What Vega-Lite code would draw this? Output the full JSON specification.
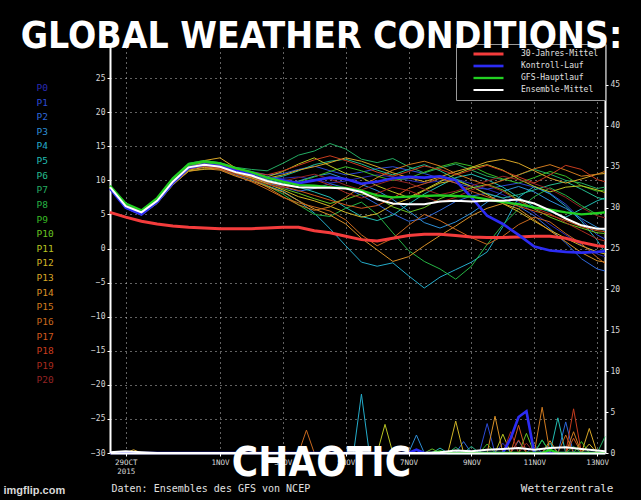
{
  "$schema": "https://vega.github.io/schema/vega-lite/v6.json",
  "width": 495,
  "height": 409,
  "autosize": "none",
  "padding": {"left": 110, "top": 44, "right": 36, "bottom": 47},
  "background": "#000000",
  "title": {
    "text": "GLOBAL WEATHER CONDITIONS:",
    "font": "Impact, DejaVu Sans Condensed, DejaVu Sans, sans-serif",
    "fontSize": 37,
    "fontWeight": "bold",
    "color": "#ffffff",
    "anchor": "middle",
    "frame": "group",
    "dx": -36,
    "dy": 36,
    "offset": -5,
    "baseline": "alphabetic",
    "zindex": 1
  },
  "config": {
    "view": {"stroke": null},
    "font": "DejaVu Sans"
  },
  "datasets": {
    "tm": [
      {"s":"P0","h":0,"t":8.9},{"s":"P0","h":12,"t":6.0},{"s":"P0","h":24,"t":5.1},{"s":"P0","h":36,"t":6.9},{"s":"P0","h":48,"t":9.7},{"s":"P0","h":60,"t":11.8},{"s":"P0","h":72,"t":12.5},{"s":"P0","h":84,"t":12.2},{"s":"P0","h":96,"t":11.5},{"s":"P0","h":108,"t":11.0},{"s":"P0","h":120,"t":10.4},{"s":"P0","h":132,"t":10.3},{"s":"P0","h":144,"t":10.5},{"s":"P0","h":156,"t":10.1},{"s":"P0","h":168,"t":9.6},{"s":"P0","h":180,"t":9.9},{"s":"P0","h":192,"t":10.4},{"s":"P0","h":204,"t":10.8},{"s":"P0","h":216,"t":10.5},{"s":"P0","h":228,"t":10.0},{"s":"P0","h":240,"t":9.6},{"s":"P0","h":252,"t":9.9},{"s":"P0","h":264,"t":10.2},{"s":"P0","h":276,"t":9.5},{"s":"P0","h":288,"t":8.7},{"s":"P0","h":300,"t":7.9},{"s":"P0","h":312,"t":6.8},{"s":"P0","h":324,"t":5.2},{"s":"P0","h":336,"t":3.5},{"s":"P0","h":348,"t":2.0},{"s":"P0","h":360,"t":0.5},{"s":"P0","h":372,"t":-0.8},{"s":"P0","h":378,"t":-1.2},
      {"s":"P1","h":0,"t":9.1},{"s":"P1","h":12,"t":6.3},{"s":"P1","h":24,"t":5.4},{"s":"P1","h":36,"t":7.1},{"s":"P1","h":48,"t":9.9},{"s":"P1","h":60,"t":12.1},{"s":"P1","h":72,"t":12.6},{"s":"P1","h":84,"t":12.3},{"s":"P1","h":96,"t":11.6},{"s":"P1","h":108,"t":11.3},{"s":"P1","h":120,"t":10.8},{"s":"P1","h":132,"t":11.0},{"s":"P1","h":144,"t":11.6},{"s":"P1","h":156,"t":12.1},{"s":"P1","h":168,"t":11.4},{"s":"P1","h":180,"t":10.8},{"s":"P1","h":192,"t":11.2},{"s":"P1","h":204,"t":11.7},{"s":"P1","h":216,"t":12.0},{"s":"P1","h":228,"t":11.5},{"s":"P1","h":240,"t":11.0},{"s":"P1","h":252,"t":10.3},{"s":"P1","h":264,"t":9.6},{"s":"P1","h":276,"t":9.0},{"s":"P1","h":288,"t":8.7},{"s":"P1","h":300,"t":9.2},{"s":"P1","h":312,"t":9.6},{"s":"P1","h":324,"t":9.0},{"s":"P1","h":336,"t":8.1},{"s":"P1","h":348,"t":6.5},{"s":"P1","h":360,"t":4.2},{"s":"P1","h":372,"t":2.0},{"s":"P1","h":378,"t":1.4},
      {"s":"P2","h":0,"t":8.8},{"s":"P2","h":12,"t":6.1},{"s":"P2","h":24,"t":5.2},{"s":"P2","h":36,"t":7.0},{"s":"P2","h":48,"t":9.6},{"s":"P2","h":60,"t":11.7},{"s":"P2","h":72,"t":12.1},{"s":"P2","h":84,"t":11.8},{"s":"P2","h":96,"t":11.0},{"s":"P2","h":108,"t":10.5},{"s":"P2","h":120,"t":9.6},{"s":"P2","h":132,"t":9.0},{"s":"P2","h":144,"t":8.4},{"s":"P2","h":156,"t":8.8},{"s":"P2","h":168,"t":9.5},{"s":"P2","h":180,"t":8.9},{"s":"P2","h":192,"t":7.8},{"s":"P2","h":204,"t":6.5},{"s":"P2","h":216,"t":5.1},{"s":"P2","h":228,"t":4.0},{"s":"P2","h":240,"t":4.4},{"s":"P2","h":252,"t":5.6},{"s":"P2","h":264,"t":6.9},{"s":"P2","h":276,"t":7.7},{"s":"P2","h":288,"t":8.1},{"s":"P2","h":300,"t":7.4},{"s":"P2","h":312,"t":6.2},{"s":"P2","h":324,"t":4.8},{"s":"P2","h":336,"t":2.9},{"s":"P2","h":348,"t":0.8},{"s":"P2","h":360,"t":-1.5},{"s":"P2","h":372,"t":-3.0},{"s":"P2","h":378,"t":-3.3},
      {"s":"P3","h":0,"t":9.0},{"s":"P3","h":12,"t":6.2},{"s":"P3","h":24,"t":5.3},{"s":"P3","h":36,"t":7.1},{"s":"P3","h":48,"t":9.9},{"s":"P3","h":60,"t":12.0},{"s":"P3","h":72,"t":12.4},{"s":"P3","h":84,"t":12.1},{"s":"P3","h":96,"t":11.3},{"s":"P3","h":108,"t":10.6},{"s":"P3","h":120,"t":9.7},{"s":"P3","h":132,"t":9.3},{"s":"P3","h":144,"t":9.9},{"s":"P3","h":156,"t":10.6},{"s":"P3","h":168,"t":11.0},{"s":"P3","h":180,"t":10.2},{"s":"P3","h":192,"t":9.4},{"s":"P3","h":204,"t":8.5},{"s":"P3","h":216,"t":7.2},{"s":"P3","h":228,"t":5.5},{"s":"P3","h":240,"t":3.8},{"s":"P3","h":252,"t":3.0},{"s":"P3","h":264,"t":3.9},{"s":"P3","h":276,"t":5.2},{"s":"P3","h":288,"t":6.8},{"s":"P3","h":300,"t":8.4},{"s":"P3","h":312,"t":9.1},{"s":"P3","h":324,"t":8.3},{"s":"P3","h":336,"t":7.0},{"s":"P3","h":348,"t":5.9},{"s":"P3","h":360,"t":4.4},{"s":"P3","h":372,"t":3.1},{"s":"P3","h":378,"t":2.6},
      {"s":"P4","h":0,"t":9.2},{"s":"P4","h":12,"t":6.4},{"s":"P4","h":24,"t":5.5},{"s":"P4","h":36,"t":7.2},{"s":"P4","h":48,"t":9.9},{"s":"P4","h":60,"t":11.8},{"s":"P4","h":72,"t":12.0},{"s":"P4","h":84,"t":11.7},{"s":"P4","h":96,"t":10.8},{"s":"P4","h":108,"t":10.1},{"s":"P4","h":120,"t":9.2},{"s":"P4","h":132,"t":8.4},{"s":"P4","h":144,"t":7.0},{"s":"P4","h":156,"t":5.2},{"s":"P4","h":168,"t":2.9},{"s":"P4","h":180,"t":0.4},{"s":"P4","h":192,"t":-2.0},{"s":"P4","h":204,"t":-2.6},{"s":"P4","h":216,"t":-2.1},{"s":"P4","h":228,"t":-4.0},{"s":"P4","h":240,"t":-5.8},{"s":"P4","h":252,"t":-4.2},{"s":"P4","h":264,"t":-3.1},{"s":"P4","h":276,"t":-2.0},{"s":"P4","h":288,"t":-0.5},{"s":"P4","h":300,"t":3.2},{"s":"P4","h":312,"t":7.5},{"s":"P4","h":324,"t":9.1},{"s":"P4","h":336,"t":8.0},{"s":"P4","h":348,"t":6.2},{"s":"P4","h":360,"t":4.0},{"s":"P4","h":372,"t":1.2},{"s":"P4","h":378,"t":-0.6},
      {"s":"P5","h":0,"t":8.9},{"s":"P5","h":12,"t":6.2},{"s":"P5","h":24,"t":5.4},{"s":"P5","h":36,"t":7.0},{"s":"P5","h":48,"t":9.7},{"s":"P5","h":60,"t":11.7},{"s":"P5","h":72,"t":12.1},{"s":"P5","h":84,"t":11.9},{"s":"P5","h":96,"t":11.2},{"s":"P5","h":108,"t":10.8},{"s":"P5","h":120,"t":10.1},{"s":"P5","h":132,"t":9.6},{"s":"P5","h":144,"t":9.0},{"s":"P5","h":156,"t":8.3},{"s":"P5","h":168,"t":7.5},{"s":"P5","h":180,"t":6.0},{"s":"P5","h":192,"t":4.7},{"s":"P5","h":204,"t":4.1},{"s":"P5","h":216,"t":4.9},{"s":"P5","h":228,"t":6.5},{"s":"P5","h":240,"t":8.0},{"s":"P5","h":252,"t":9.2},{"s":"P5","h":264,"t":10.4},{"s":"P5","h":276,"t":10.9},{"s":"P5","h":288,"t":10.1},{"s":"P5","h":300,"t":9.0},{"s":"P5","h":312,"t":7.5},{"s":"P5","h":324,"t":6.1},{"s":"P5","h":336,"t":5.4},{"s":"P5","h":348,"t":4.6},{"s":"P5","h":360,"t":5.8},{"s":"P5","h":372,"t":7.0},{"s":"P5","h":378,"t":7.4},
      {"s":"P6","h":0,"t":9.1},{"s":"P6","h":12,"t":6.3},{"s":"P6","h":24,"t":5.3},{"s":"P6","h":36,"t":6.9},{"s":"P6","h":48,"t":9.8},{"s":"P6","h":60,"t":12.0},{"s":"P6","h":72,"t":12.5},{"s":"P6","h":84,"t":12.2},{"s":"P6","h":96,"t":11.4},{"s":"P6","h":108,"t":10.9},{"s":"P6","h":120,"t":10.2},{"s":"P6","h":132,"t":10.6},{"s":"P6","h":144,"t":11.4},{"s":"P6","h":156,"t":12.3},{"s":"P6","h":168,"t":12.8},{"s":"P6","h":180,"t":13.1},{"s":"P6","h":192,"t":12.4},{"s":"P6","h":204,"t":11.5},{"s":"P6","h":216,"t":10.8},{"s":"P6","h":228,"t":11.6},{"s":"P6","h":240,"t":12.3},{"s":"P6","h":252,"t":11.4},{"s":"P6","h":264,"t":10.2},{"s":"P6","h":276,"t":9.1},{"s":"P6","h":288,"t":8.0},{"s":"P6","h":300,"t":7.4},{"s":"P6","h":312,"t":7.9},{"s":"P6","h":324,"t":8.6},{"s":"P6","h":336,"t":9.3},{"s":"P6","h":348,"t":9.8},{"s":"P6","h":360,"t":8.7},{"s":"P6","h":372,"t":7.5},{"s":"P6","h":378,"t":7.2},
      {"s":"P7","h":0,"t":9.0},{"s":"P7","h":12,"t":6.4},{"s":"P7","h":24,"t":5.6},{"s":"P7","h":36,"t":7.3},{"s":"P7","h":48,"t":10.2},{"s":"P7","h":60,"t":12.5},{"s":"P7","h":72,"t":12.9},{"s":"P7","h":84,"t":12.6},{"s":"P7","h":96,"t":11.9},{"s":"P7","h":108,"t":11.6},{"s":"P7","h":120,"t":11.4},{"s":"P7","h":132,"t":12.5},{"s":"P7","h":144,"t":13.7},{"s":"P7","h":156,"t":14.3},{"s":"P7","h":168,"t":15.4},{"s":"P7","h":180,"t":14.6},{"s":"P7","h":192,"t":13.1},{"s":"P7","h":204,"t":12.6},{"s":"P7","h":216,"t":13.2},{"s":"P7","h":228,"t":12.0},{"s":"P7","h":240,"t":11.1},{"s":"P7","h":252,"t":11.8},{"s":"P7","h":264,"t":12.4},{"s":"P7","h":276,"t":11.5},{"s":"P7","h":288,"t":10.6},{"s":"P7","h":300,"t":10.1},{"s":"P7","h":312,"t":10.8},{"s":"P7","h":324,"t":11.6},{"s":"P7","h":336,"t":10.9},{"s":"P7","h":348,"t":10.0},{"s":"P7","h":360,"t":9.6},{"s":"P7","h":372,"t":8.8},{"s":"P7","h":378,"t":9.0},
      {"s":"P8","h":0,"t":9.0},{"s":"P8","h":12,"t":6.3},{"s":"P8","h":24,"t":5.4},{"s":"P8","h":36,"t":7.2},{"s":"P8","h":48,"t":10.0},{"s":"P8","h":60,"t":12.2},{"s":"P8","h":72,"t":12.6},{"s":"P8","h":84,"t":12.2},{"s":"P8","h":96,"t":11.3},{"s":"P8","h":108,"t":10.4},{"s":"P8","h":120,"t":9.2},{"s":"P8","h":132,"t":8.0},{"s":"P8","h":144,"t":6.4},{"s":"P8","h":156,"t":5.0},{"s":"P8","h":168,"t":4.7},{"s":"P8","h":180,"t":5.9},{"s":"P8","h":192,"t":6.8},{"s":"P8","h":204,"t":5.0},{"s":"P8","h":216,"t":2.3},{"s":"P8","h":228,"t":-0.3},{"s":"P8","h":240,"t":-1.9},{"s":"P8","h":252,"t":-3.0},{"s":"P8","h":264,"t":-4.5},{"s":"P8","h":276,"t":-2.6},{"s":"P8","h":288,"t":0.6},{"s":"P8","h":300,"t":3.5},{"s":"P8","h":312,"t":5.8},{"s":"P8","h":324,"t":7.6},{"s":"P8","h":336,"t":8.9},{"s":"P8","h":348,"t":7.8},{"s":"P8","h":360,"t":6.3},{"s":"P8","h":372,"t":5.0},{"s":"P8","h":378,"t":5.4},
      {"s":"P9","h":0,"t":9.1},{"s":"P9","h":12,"t":6.2},{"s":"P9","h":24,"t":5.2},{"s":"P9","h":36,"t":7.0},{"s":"P9","h":48,"t":9.9},{"s":"P9","h":60,"t":12.2},{"s":"P9","h":72,"t":12.7},{"s":"P9","h":84,"t":12.4},{"s":"P9","h":96,"t":11.5},{"s":"P9","h":108,"t":10.8},{"s":"P9","h":120,"t":10.0},{"s":"P9","h":132,"t":9.4},{"s":"P9","h":144,"t":9.8},{"s":"P9","h":156,"t":10.5},{"s":"P9","h":168,"t":11.3},{"s":"P9","h":180,"t":12.0},{"s":"P9","h":192,"t":11.4},{"s":"P9","h":204,"t":10.6},{"s":"P9","h":216,"t":10.0},{"s":"P9","h":228,"t":10.3},{"s":"P9","h":240,"t":11.2},{"s":"P9","h":252,"t":12.0},{"s":"P9","h":264,"t":12.6},{"s":"P9","h":276,"t":12.1},{"s":"P9","h":288,"t":11.0},{"s":"P9","h":300,"t":10.2},{"s":"P9","h":312,"t":9.6},{"s":"P9","h":324,"t":10.4},{"s":"P9","h":336,"t":11.3},{"s":"P9","h":348,"t":10.6},{"s":"P9","h":360,"t":9.2},{"s":"P9","h":372,"t":8.4},{"s":"P9","h":378,"t":8.6},
      {"s":"P10","h":0,"t":8.9},{"s":"P10","h":12,"t":6.1},{"s":"P10","h":24,"t":5.1},{"s":"P10","h":36,"t":6.8},{"s":"P10","h":48,"t":9.6},{"s":"P10","h":60,"t":11.8},{"s":"P10","h":72,"t":12.2},{"s":"P10","h":84,"t":11.9},{"s":"P10","h":96,"t":11.0},{"s":"P10","h":108,"t":10.3},{"s":"P10","h":120,"t":9.5},{"s":"P10","h":132,"t":8.8},{"s":"P10","h":144,"t":8.1},{"s":"P10","h":156,"t":7.3},{"s":"P10","h":168,"t":6.6},{"s":"P10","h":180,"t":7.2},{"s":"P10","h":192,"t":8.0},{"s":"P10","h":204,"t":7.5},{"s":"P10","h":216,"t":6.1},{"s":"P10","h":228,"t":5.3},{"s":"P10","h":240,"t":6.0},{"s":"P10","h":252,"t":7.3},{"s":"P10","h":264,"t":8.2},{"s":"P10","h":276,"t":8.9},{"s":"P10","h":288,"t":9.4},{"s":"P10","h":300,"t":8.6},{"s":"P10","h":312,"t":7.1},{"s":"P10","h":324,"t":5.8},{"s":"P10","h":336,"t":4.6},{"s":"P10","h":348,"t":3.7},{"s":"P10","h":360,"t":3.0},{"s":"P10","h":372,"t":2.3},{"s":"P10","h":378,"t":2.2},
      {"s":"P11","h":0,"t":8.7},{"s":"P11","h":12,"t":5.9},{"s":"P11","h":24,"t":4.9},{"s":"P11","h":36,"t":6.6},{"s":"P11","h":48,"t":9.3},{"s":"P11","h":60,"t":11.4},{"s":"P11","h":72,"t":11.6},{"s":"P11","h":84,"t":11.9},{"s":"P11","h":96,"t":11.8},{"s":"P11","h":108,"t":11.2},{"s":"P11","h":120,"t":10.5},{"s":"P11","h":132,"t":11.3},{"s":"P11","h":144,"t":12.4},{"s":"P11","h":156,"t":13.3},{"s":"P11","h":168,"t":12.1},{"s":"P11","h":180,"t":11.0},{"s":"P11","h":192,"t":10.4},{"s":"P11","h":204,"t":9.2},{"s":"P11","h":216,"t":8.3},{"s":"P11","h":228,"t":7.5},{"s":"P11","h":240,"t":8.6},{"s":"P11","h":252,"t":9.8},{"s":"P11","h":264,"t":10.9},{"s":"P11","h":276,"t":11.8},{"s":"P11","h":288,"t":12.3},{"s":"P11","h":300,"t":11.5},{"s":"P11","h":312,"t":10.2},{"s":"P11","h":324,"t":9.1},{"s":"P11","h":336,"t":8.3},{"s":"P11","h":348,"t":9.0},{"s":"P11","h":360,"t":9.2},{"s":"P11","h":372,"t":8.6},{"s":"P11","h":378,"t":8.2},
      {"s":"P12","h":0,"t":8.8},{"s":"P12","h":12,"t":6.0},{"s":"P12","h":24,"t":5.0},{"s":"P12","h":36,"t":6.8},{"s":"P12","h":48,"t":9.5},{"s":"P12","h":60,"t":11.5},{"s":"P12","h":72,"t":11.9},{"s":"P12","h":84,"t":11.7},{"s":"P12","h":96,"t":11.0},{"s":"P12","h":108,"t":10.4},{"s":"P12","h":120,"t":9.5},{"s":"P12","h":132,"t":8.6},{"s":"P12","h":144,"t":7.6},{"s":"P12","h":156,"t":7.0},{"s":"P12","h":168,"t":6.2},{"s":"P12","h":180,"t":5.3},{"s":"P12","h":192,"t":4.6},{"s":"P12","h":204,"t":5.1},{"s":"P12","h":216,"t":6.4},{"s":"P12","h":228,"t":7.3},{"s":"P12","h":240,"t":8.5},{"s":"P12","h":252,"t":9.6},{"s":"P12","h":264,"t":10.0},{"s":"P12","h":276,"t":9.1},{"s":"P12","h":288,"t":7.9},{"s":"P12","h":300,"t":6.6},{"s":"P12","h":312,"t":5.4},{"s":"P12","h":324,"t":4.0},{"s":"P12","h":336,"t":2.7},{"s":"P12","h":348,"t":1.5},{"s":"P12","h":360,"t":0.4},{"s":"P12","h":372,"t":-0.5},{"s":"P12","h":378,"t":-0.8},
      {"s":"P13","h":0,"t":9.0},{"s":"P13","h":12,"t":6.1},{"s":"P13","h":24,"t":5.1},{"s":"P13","h":36,"t":6.9},{"s":"P13","h":48,"t":9.6},{"s":"P13","h":60,"t":11.6},{"s":"P13","h":72,"t":12.9},{"s":"P13","h":84,"t":13.3},{"s":"P13","h":96,"t":11.8},{"s":"P13","h":108,"t":10.9},{"s":"P13","h":120,"t":10.3},{"s":"P13","h":132,"t":10.8},{"s":"P13","h":144,"t":11.5},{"s":"P13","h":156,"t":12.0},{"s":"P13","h":168,"t":12.6},{"s":"P13","h":180,"t":13.3},{"s":"P13","h":192,"t":12.8},{"s":"P13","h":204,"t":12.0},{"s":"P13","h":216,"t":11.1},{"s":"P13","h":228,"t":10.4},{"s":"P13","h":240,"t":9.8},{"s":"P13","h":252,"t":10.5},{"s":"P13","h":264,"t":11.3},{"s":"P13","h":276,"t":11.9},{"s":"P13","h":288,"t":12.7},{"s":"P13","h":300,"t":13.1},{"s":"P13","h":312,"t":12.5},{"s":"P13","h":324,"t":11.4},{"s":"P13","h":336,"t":10.3},{"s":"P13","h":348,"t":9.6},{"s":"P13","h":360,"t":10.2},{"s":"P13","h":372,"t":10.9},{"s":"P13","h":378,"t":11.0},
      {"s":"P14","h":0,"t":8.9},{"s":"P14","h":12,"t":6.0},{"s":"P14","h":24,"t":5.0},{"s":"P14","h":36,"t":6.7},{"s":"P14","h":48,"t":9.4},{"s":"P14","h":60,"t":11.3},{"s":"P14","h":72,"t":11.7},{"s":"P14","h":84,"t":11.5},{"s":"P14","h":96,"t":10.6},{"s":"P14","h":108,"t":9.9},{"s":"P14","h":120,"t":9.1},{"s":"P14","h":132,"t":8.3},{"s":"P14","h":144,"t":7.0},{"s":"P14","h":156,"t":5.8},{"s":"P14","h":168,"t":4.9},{"s":"P14","h":180,"t":3.6},{"s":"P14","h":192,"t":1.5},{"s":"P14","h":204,"t":-0.2},{"s":"P14","h":216,"t":-1.9},{"s":"P14","h":228,"t":-1.2},{"s":"P14","h":240,"t":0.4},{"s":"P14","h":252,"t":1.9},{"s":"P14","h":264,"t":3.3},{"s":"P14","h":276,"t":4.8},{"s":"P14","h":288,"t":5.9},{"s":"P14","h":300,"t":6.6},{"s":"P14","h":312,"t":5.8},{"s":"P14","h":324,"t":4.2},{"s":"P14","h":336,"t":2.6},{"s":"P14","h":348,"t":1.0},{"s":"P14","h":360,"t":-0.6},{"s":"P14","h":372,"t":-1.8},{"s":"P14","h":378,"t":-2.0},
      {"s":"P15","h":0,"t":9.0},{"s":"P15","h":12,"t":6.2},{"s":"P15","h":24,"t":5.3},{"s":"P15","h":36,"t":7.0},{"s":"P15","h":48,"t":9.7},{"s":"P15","h":60,"t":11.7},{"s":"P15","h":72,"t":12.1},{"s":"P15","h":84,"t":11.8},{"s":"P15","h":96,"t":11.0},{"s":"P15","h":108,"t":10.2},{"s":"P15","h":120,"t":9.0},{"s":"P15","h":132,"t":7.6},{"s":"P15","h":144,"t":6.4},{"s":"P15","h":156,"t":5.6},{"s":"P15","h":168,"t":6.1},{"s":"P15","h":180,"t":7.5},{"s":"P15","h":192,"t":9.1},{"s":"P15","h":204,"t":10.4},{"s":"P15","h":216,"t":11.5},{"s":"P15","h":228,"t":12.3},{"s":"P15","h":240,"t":12.8},{"s":"P15","h":252,"t":12.1},{"s":"P15","h":264,"t":11.0},{"s":"P15","h":276,"t":10.1},{"s":"P15","h":288,"t":9.3},{"s":"P15","h":300,"t":10.0},{"s":"P15","h":312,"t":10.8},{"s":"P15","h":324,"t":11.7},{"s":"P15","h":336,"t":12.3},{"s":"P15","h":348,"t":11.5},{"s":"P15","h":360,"t":10.6},{"s":"P15","h":372,"t":10.9},{"s":"P15","h":378,"t":11.3},
      {"s":"P16","h":0,"t":9.1},{"s":"P16","h":12,"t":6.3},{"s":"P16","h":24,"t":5.4},{"s":"P16","h":36,"t":7.1},{"s":"P16","h":48,"t":9.8},{"s":"P16","h":60,"t":11.8},{"s":"P16","h":72,"t":12.0},{"s":"P16","h":84,"t":11.6},{"s":"P16","h":96,"t":10.7},{"s":"P16","h":108,"t":9.8},{"s":"P16","h":120,"t":8.7},{"s":"P16","h":132,"t":7.5},{"s":"P16","h":144,"t":6.7},{"s":"P16","h":156,"t":6.1},{"s":"P16","h":168,"t":5.5},{"s":"P16","h":180,"t":4.2},{"s":"P16","h":192,"t":2.0},{"s":"P16","h":204,"t":0.4},{"s":"P16","h":216,"t":1.5},{"s":"P16","h":228,"t":3.4},{"s":"P16","h":240,"t":5.0},{"s":"P16","h":252,"t":4.1},{"s":"P16","h":264,"t":2.8},{"s":"P16","h":276,"t":1.6},{"s":"P16","h":288,"t":0.6},{"s":"P16","h":300,"t":1.8},{"s":"P16","h":312,"t":3.5},{"s":"P16","h":324,"t":4.6},{"s":"P16","h":336,"t":3.9},{"s":"P16","h":348,"t":2.2},{"s":"P16","h":360,"t":0.7},{"s":"P16","h":372,"t":-1.3},{"s":"P16","h":378,"t":-2.2},
      {"s":"P17","h":0,"t":8.8},{"s":"P17","h":12,"t":6.0},{"s":"P17","h":24,"t":5.1},{"s":"P17","h":36,"t":6.8},{"s":"P17","h":48,"t":9.6},{"s":"P17","h":60,"t":11.6},{"s":"P17","h":72,"t":12.1},{"s":"P17","h":84,"t":11.9},{"s":"P17","h":96,"t":11.2},{"s":"P17","h":108,"t":10.5},{"s":"P17","h":120,"t":9.7},{"s":"P17","h":132,"t":9.1},{"s":"P17","h":144,"t":8.5},{"s":"P17","h":156,"t":7.8},{"s":"P17","h":168,"t":7.1},{"s":"P17","h":180,"t":6.4},{"s":"P17","h":192,"t":5.9},{"s":"P17","h":204,"t":6.3},{"s":"P17","h":216,"t":7.4},{"s":"P17","h":228,"t":8.8},{"s":"P17","h":240,"t":9.5},{"s":"P17","h":252,"t":10.3},{"s":"P17","h":264,"t":9.6},{"s":"P17","h":276,"t":8.4},{"s":"P17","h":288,"t":7.6},{"s":"P17","h":300,"t":6.9},{"s":"P17","h":312,"t":6.2},{"s":"P17","h":324,"t":5.5},{"s":"P17","h":336,"t":4.9},{"s":"P17","h":348,"t":4.1},{"s":"P17","h":360,"t":3.2},{"s":"P17","h":372,"t":2.6},{"s":"P17","h":378,"t":2.5},
      {"s":"P18","h":0,"t":9.0},{"s":"P18","h":12,"t":6.2},{"s":"P18","h":24,"t":5.3},{"s":"P18","h":36,"t":7.0},{"s":"P18","h":48,"t":9.8},{"s":"P18","h":60,"t":11.9},{"s":"P18","h":72,"t":12.4},{"s":"P18","h":84,"t":12.2},{"s":"P18","h":96,"t":11.6},{"s":"P18","h":108,"t":11.2},{"s":"P18","h":120,"t":10.8},{"s":"P18","h":132,"t":11.4},{"s":"P18","h":144,"t":12.2},{"s":"P18","h":156,"t":13.0},{"s":"P18","h":168,"t":13.6},{"s":"P18","h":180,"t":12.9},{"s":"P18","h":192,"t":12.1},{"s":"P18","h":204,"t":11.2},{"s":"P18","h":216,"t":10.6},{"s":"P18","h":228,"t":11.3},{"s":"P18","h":240,"t":12.1},{"s":"P18","h":252,"t":11.6},{"s":"P18","h":264,"t":10.8},{"s":"P18","h":276,"t":11.5},{"s":"P18","h":288,"t":12.2},{"s":"P18","h":300,"t":11.4},{"s":"P18","h":312,"t":10.5},{"s":"P18","h":324,"t":9.6},{"s":"P18","h":336,"t":10.8},{"s":"P18","h":348,"t":12.2},{"s":"P18","h":360,"t":11.6},{"s":"P18","h":372,"t":10.1},{"s":"P18","h":378,"t":9.8},
      {"s":"P19","h":0,"t":9.1},{"s":"P19","h":12,"t":6.3},{"s":"P19","h":24,"t":5.2},{"s":"P19","h":36,"t":6.9},{"s":"P19","h":48,"t":9.7},{"s":"P19","h":60,"t":11.8},{"s":"P19","h":72,"t":12.2},{"s":"P19","h":84,"t":11.8},{"s":"P19","h":96,"t":10.9},{"s":"P19","h":108,"t":10.2},{"s":"P19","h":120,"t":9.4},{"s":"P19","h":132,"t":8.9},{"s":"P19","h":144,"t":9.5},{"s":"P19","h":156,"t":10.1},{"s":"P19","h":168,"t":9.3},{"s":"P19","h":180,"t":8.2},{"s":"P19","h":192,"t":7.4},{"s":"P19","h":204,"t":8.1},{"s":"P19","h":216,"t":9.0},{"s":"P19","h":228,"t":8.5},{"s":"P19","h":240,"t":7.6},{"s":"P19","h":252,"t":6.8},{"s":"P19","h":264,"t":7.5},{"s":"P19","h":276,"t":8.6},{"s":"P19","h":288,"t":9.3},{"s":"P19","h":300,"t":8.4},{"s":"P19","h":312,"t":7.0},{"s":"P19","h":324,"t":5.9},{"s":"P19","h":336,"t":5.1},{"s":"P19","h":348,"t":3.8},{"s":"P19","h":360,"t":2.6},{"s":"P19","h":372,"t":1.4},{"s":"P19","h":378,"t":1.1},
      {"s":"P20","h":0,"t":8.9},{"s":"P20","h":12,"t":6.1},{"s":"P20","h":24,"t":5.2},{"s":"P20","h":36,"t":7.0},{"s":"P20","h":48,"t":9.8},{"s":"P20","h":60,"t":12.0},{"s":"P20","h":72,"t":12.4},{"s":"P20","h":84,"t":12.1},{"s":"P20","h":96,"t":11.4},{"s":"P20","h":108,"t":10.9},{"s":"P20","h":120,"t":10.3},{"s":"P20","h":132,"t":9.9},{"s":"P20","h":144,"t":10.4},{"s":"P20","h":156,"t":10.9},{"s":"P20","h":168,"t":10.2},{"s":"P20","h":180,"t":9.3},{"s":"P20","h":192,"t":8.6},{"s":"P20","h":204,"t":9.4},{"s":"P20","h":216,"t":10.1},{"s":"P20","h":228,"t":9.6},{"s":"P20","h":240,"t":8.7},{"s":"P20","h":252,"t":7.9},{"s":"P20","h":264,"t":8.4},{"s":"P20","h":276,"t":9.2},{"s":"P20","h":288,"t":9.9},{"s":"P20","h":300,"t":10.6},{"s":"P20","h":312,"t":10.1},{"s":"P20","h":324,"t":9.5},{"s":"P20","h":336,"t":8.7},{"s":"P20","h":348,"t":7.5},{"s":"P20","h":360,"t":6.0},{"s":"P20","h":372,"t":4.8},{"s":"P20","h":378,"t":4.5}
    ],
    "ts": [
      {"s":"30-Jahres-Mittel","h":0,"t":5.3},{"s":"30-Jahres-Mittel","h":12,"t":4.6},{"s":"30-Jahres-Mittel","h":24,"t":4.0},{"s":"30-Jahres-Mittel","h":36,"t":3.6},{"s":"30-Jahres-Mittel","h":48,"t":3.3},{"s":"30-Jahres-Mittel","h":60,"t":3.1},{"s":"30-Jahres-Mittel","h":72,"t":3.0},{"s":"30-Jahres-Mittel","h":84,"t":2.9},{"s":"30-Jahres-Mittel","h":96,"t":2.9},{"s":"30-Jahres-Mittel","h":108,"t":2.9},{"s":"30-Jahres-Mittel","h":120,"t":3.0},{"s":"30-Jahres-Mittel","h":132,"t":3.1},{"s":"30-Jahres-Mittel","h":144,"t":3.1},{"s":"30-Jahres-Mittel","h":156,"t":2.6},{"s":"30-Jahres-Mittel","h":168,"t":2.3},{"s":"30-Jahres-Mittel","h":180,"t":1.8},{"s":"30-Jahres-Mittel","h":192,"t":1.3},{"s":"30-Jahres-Mittel","h":204,"t":1.1},{"s":"30-Jahres-Mittel","h":216,"t":1.5},{"s":"30-Jahres-Mittel","h":228,"t":1.9},{"s":"30-Jahres-Mittel","h":240,"t":2.1},{"s":"30-Jahres-Mittel","h":252,"t":2.1},{"s":"30-Jahres-Mittel","h":264,"t":1.9},{"s":"30-Jahres-Mittel","h":276,"t":1.7},{"s":"30-Jahres-Mittel","h":288,"t":1.6},{"s":"30-Jahres-Mittel","h":300,"t":1.6},{"s":"30-Jahres-Mittel","h":312,"t":1.7},{"s":"30-Jahres-Mittel","h":324,"t":1.8},{"s":"30-Jahres-Mittel","h":336,"t":1.8},{"s":"30-Jahres-Mittel","h":348,"t":1.5},{"s":"30-Jahres-Mittel","h":360,"t":0.9},{"s":"30-Jahres-Mittel","h":372,"t":0.4},{"s":"30-Jahres-Mittel","h":378,"t":0.3},
      {"s":"Kontroll-Lauf","h":0,"t":8.8},{"s":"Kontroll-Lauf","h":12,"t":6.0},{"s":"Kontroll-Lauf","h":24,"t":5.0},{"s":"Kontroll-Lauf","h":36,"t":6.8},{"s":"Kontroll-Lauf","h":48,"t":9.6},{"s":"Kontroll-Lauf","h":60,"t":11.8},{"s":"Kontroll-Lauf","h":72,"t":12.3},{"s":"Kontroll-Lauf","h":84,"t":12.1},{"s":"Kontroll-Lauf","h":96,"t":11.4},{"s":"Kontroll-Lauf","h":108,"t":11.0},{"s":"Kontroll-Lauf","h":120,"t":10.4},{"s":"Kontroll-Lauf","h":132,"t":10.0},{"s":"Kontroll-Lauf","h":144,"t":9.6},{"s":"Kontroll-Lauf","h":156,"t":10.0},{"s":"Kontroll-Lauf","h":168,"t":10.4},{"s":"Kontroll-Lauf","h":180,"t":10.2},{"s":"Kontroll-Lauf","h":192,"t":9.5},{"s":"Kontroll-Lauf","h":204,"t":9.8},{"s":"Kontroll-Lauf","h":216,"t":10.3},{"s":"Kontroll-Lauf","h":228,"t":10.5},{"s":"Kontroll-Lauf","h":240,"t":10.4},{"s":"Kontroll-Lauf","h":252,"t":10.6},{"s":"Kontroll-Lauf","h":264,"t":10.0},{"s":"Kontroll-Lauf","h":276,"t":7.5},{"s":"Kontroll-Lauf","h":288,"t":4.8},{"s":"Kontroll-Lauf","h":300,"t":3.6},{"s":"Kontroll-Lauf","h":312,"t":2.0},{"s":"Kontroll-Lauf","h":324,"t":0.3},{"s":"Kontroll-Lauf","h":336,"t":-0.3},{"s":"Kontroll-Lauf","h":348,"t":-0.5},{"s":"Kontroll-Lauf","h":360,"t":-0.6},{"s":"Kontroll-Lauf","h":372,"t":-0.5},{"s":"Kontroll-Lauf","h":378,"t":-0.4},
      {"s":"GFS-Hauptlauf","h":0,"t":9.2},{"s":"GFS-Hauptlauf","h":12,"t":6.6},{"s":"GFS-Hauptlauf","h":24,"t":5.6},{"s":"GFS-Hauptlauf","h":36,"t":7.4},{"s":"GFS-Hauptlauf","h":48,"t":10.3},{"s":"GFS-Hauptlauf","h":60,"t":12.4},{"s":"GFS-Hauptlauf","h":72,"t":12.8},{"s":"GFS-Hauptlauf","h":84,"t":12.5},{"s":"GFS-Hauptlauf","h":96,"t":11.8},{"s":"GFS-Hauptlauf","h":108,"t":11.2},{"s":"GFS-Hauptlauf","h":120,"t":10.4},{"s":"GFS-Hauptlauf","h":132,"t":9.8},{"s":"GFS-Hauptlauf","h":144,"t":9.3},{"s":"GFS-Hauptlauf","h":156,"t":9.2},{"s":"GFS-Hauptlauf","h":168,"t":9.0},{"s":"GFS-Hauptlauf","h":180,"t":8.9},{"s":"GFS-Hauptlauf","h":192,"t":8.5},{"s":"GFS-Hauptlauf","h":204,"t":7.8},{"s":"GFS-Hauptlauf","h":216,"t":7.5},{"s":"GFS-Hauptlauf","h":228,"t":7.6},{"s":"GFS-Hauptlauf","h":240,"t":7.7},{"s":"GFS-Hauptlauf","h":252,"t":7.8},{"s":"GFS-Hauptlauf","h":264,"t":7.7},{"s":"GFS-Hauptlauf","h":276,"t":7.6},{"s":"GFS-Hauptlauf","h":288,"t":7.2},{"s":"GFS-Hauptlauf","h":300,"t":6.8},{"s":"GFS-Hauptlauf","h":312,"t":6.5},{"s":"GFS-Hauptlauf","h":324,"t":6.0},{"s":"GFS-Hauptlauf","h":336,"t":5.7},{"s":"GFS-Hauptlauf","h":348,"t":5.3},{"s":"GFS-Hauptlauf","h":360,"t":5.0},{"s":"GFS-Hauptlauf","h":372,"t":5.2},{"s":"GFS-Hauptlauf","h":378,"t":5.3},
      {"s":"Ensemble-Mittel","h":0,"t":9.0},{"s":"Ensemble-Mittel","h":12,"t":6.2},{"s":"Ensemble-Mittel","h":24,"t":5.3},{"s":"Ensemble-Mittel","h":36,"t":7.0},{"s":"Ensemble-Mittel","h":48,"t":9.8},{"s":"Ensemble-Mittel","h":60,"t":11.9},{"s":"Ensemble-Mittel","h":72,"t":12.3},{"s":"Ensemble-Mittel","h":84,"t":12.0},{"s":"Ensemble-Mittel","h":96,"t":11.2},{"s":"Ensemble-Mittel","h":108,"t":10.7},{"s":"Ensemble-Mittel","h":120,"t":9.9},{"s":"Ensemble-Mittel","h":132,"t":9.4},{"s":"Ensemble-Mittel","h":144,"t":9.0},{"s":"Ensemble-Mittel","h":156,"t":8.9},{"s":"Ensemble-Mittel","h":168,"t":8.9},{"s":"Ensemble-Mittel","h":180,"t":8.8},{"s":"Ensemble-Mittel","h":192,"t":8.3},{"s":"Ensemble-Mittel","h":204,"t":7.2},{"s":"Ensemble-Mittel","h":216,"t":6.6},{"s":"Ensemble-Mittel","h":228,"t":6.5},{"s":"Ensemble-Mittel","h":240,"t":6.5},{"s":"Ensemble-Mittel","h":252,"t":6.9},{"s":"Ensemble-Mittel","h":264,"t":7.0},{"s":"Ensemble-Mittel","h":276,"t":6.9},{"s":"Ensemble-Mittel","h":288,"t":7.0},{"s":"Ensemble-Mittel","h":300,"t":7.0},{"s":"Ensemble-Mittel","h":312,"t":7.2},{"s":"Ensemble-Mittel","h":324,"t":6.6},{"s":"Ensemble-Mittel","h":336,"t":5.6},{"s":"Ensemble-Mittel","h":348,"t":4.4},{"s":"Ensemble-Mittel","h":360,"t":3.4},{"s":"Ensemble-Mittel","h":372,"t":2.9},{"s":"Ensemble-Mittel","h":378,"t":2.9}
    ],
    "pm": [
      {"s":"P0","h":0,"p":0},{"s":"P0","h":294,"p":0},{"s":"P0","h":300,"p":1.2},{"s":"P0","h":306,"p":0},{"s":"P0","h":378,"p":0},
      {"s":"P1","h":0,"p":0},{"s":"P1","h":282,"p":0},{"s":"P1","h":288,"p":3.6},{"s":"P1","h":294,"p":0},{"s":"P1","h":318,"p":0},{"s":"P1","h":324,"p":1.0},{"s":"P1","h":330,"p":0},{"s":"P1","h":378,"p":0},
      {"s":"P2","h":0,"p":0},{"s":"P2","h":264,"p":0},{"s":"P2","h":270,"p":1.4},{"s":"P2","h":276,"p":0},{"s":"P2","h":342,"p":0},{"s":"P2","h":348,"p":3.8},{"s":"P2","h":354,"p":0},{"s":"P2","h":378,"p":0},
      {"s":"P3","h":0,"p":0},{"s":"P3","h":228,"p":0},{"s":"P3","h":234,"p":2.2},{"s":"P3","h":240,"p":0},{"s":"P3","h":306,"p":0},{"s":"P3","h":312,"p":1.5},{"s":"P3","h":318,"p":0},{"s":"P3","h":378,"p":0},
      {"s":"P4","h":0,"p":0},{"s":"P4","h":186,"p":0},{"s":"P4","h":192,"p":7.2},{"s":"P4","h":198,"p":0},{"s":"P4","h":330,"p":0},{"s":"P4","h":336,"p":1.2},{"s":"P4","h":342,"p":0},{"s":"P4","h":378,"p":0},
      {"s":"P5","h":0,"p":0},{"s":"P5","h":246,"p":0},{"s":"P5","h":252,"p":0.6},{"s":"P5","h":258,"p":0},{"s":"P5","h":336,"p":0},{"s":"P5","h":342,"p":4.3},{"s":"P5","h":348,"p":0},{"s":"P5","h":378,"p":0},
      {"s":"P6","h":0,"p":0},{"s":"P6","h":270,"p":0},{"s":"P6","h":276,"p":0.8},{"s":"P6","h":282,"p":0},{"s":"P6","h":324,"p":0},{"s":"P6","h":330,"p":1.6},{"s":"P6","h":336,"p":0},{"s":"P6","h":378,"p":0},
      {"s":"P7","h":0,"p":0},{"s":"P7","h":258,"p":0},{"s":"P7","h":264,"p":0.7},{"s":"P7","h":270,"p":0},{"s":"P7","h":372,"p":0},{"s":"P7","h":378,"p":2.0},
      {"s":"P8","h":0,"p":0},{"s":"P8","h":324,"p":0},{"s":"P8","h":330,"p":1.6},{"s":"P8","h":336,"p":0},{"s":"P8","h":348,"p":0},{"s":"P8","h":354,"p":0.8},{"s":"P8","h":360,"p":0},{"s":"P8","h":378,"p":0},
      {"s":"P9","h":0,"p":0},{"s":"P9","h":282,"p":0},{"s":"P9","h":288,"p":1.1},{"s":"P9","h":294,"p":0},{"s":"P9","h":354,"p":0},{"s":"P9","h":360,"p":1.4},{"s":"P9","h":366,"p":0},{"s":"P9","h":378,"p":0},
      {"s":"P10","h":0,"p":0},{"s":"P10","h":240,"p":0},{"s":"P10","h":246,"p":0.5},{"s":"P10","h":252,"p":0},{"s":"P10","h":312,"p":0},{"s":"P10","h":318,"p":2.4},{"s":"P10","h":324,"p":0},{"s":"P10","h":378,"p":0},
      {"s":"P11","h":0,"p":0},{"s":"P11","h":204,"p":0},{"s":"P11","h":210,"p":3.5},{"s":"P11","h":216,"p":0},{"s":"P11","h":294,"p":0},{"s":"P11","h":300,"p":2.3},{"s":"P11","h":306,"p":0},{"s":"P11","h":378,"p":0},
      {"s":"P12","h":0,"p":0},{"s":"P12","h":258,"p":0},{"s":"P12","h":264,"p":3.9},{"s":"P12","h":270,"p":0},{"s":"P12","h":360,"p":0},{"s":"P12","h":366,"p":1.1},{"s":"P12","h":372,"p":0},{"s":"P12","h":378,"p":0},
      {"s":"P13","h":0,"p":0},{"s":"P13","h":12,"p":0},{"s":"P13","h":18,"p":0.4},{"s":"P13","h":24,"p":0},{"s":"P13","h":360,"p":0},{"s":"P13","h":366,"p":3.0},{"s":"P13","h":372,"p":0},{"s":"P13","h":378,"p":0},
      {"s":"P14","h":0,"p":0},{"s":"P14","h":288,"p":0},{"s":"P14","h":294,"p":4.5},{"s":"P14","h":300,"p":0},{"s":"P14","h":330,"p":0},{"s":"P14","h":336,"p":1.5},{"s":"P14","h":342,"p":0},{"s":"P14","h":378,"p":0},
      {"s":"P15","h":0,"p":0},{"s":"P15","h":324,"p":0},{"s":"P15","h":330,"p":5.6},{"s":"P15","h":336,"p":0},{"s":"P15","h":348,"p":0},{"s":"P15","h":354,"p":2.6},{"s":"P15","h":360,"p":0},{"s":"P15","h":378,"p":0},
      {"s":"P16","h":0,"p":0},{"s":"P16","h":144,"p":0},{"s":"P16","h":150,"p":2.8},{"s":"P16","h":156,"p":0},{"s":"P16","h":342,"p":0},{"s":"P16","h":348,"p":2.2},{"s":"P16","h":354,"p":0},{"s":"P16","h":378,"p":0},
      {"s":"P17","h":0,"p":0},{"s":"P17","h":306,"p":0},{"s":"P17","h":312,"p":3.4},{"s":"P17","h":318,"p":0},{"s":"P17","h":348,"p":0},{"s":"P17","h":354,"p":1.8},{"s":"P17","h":360,"p":0},{"s":"P17","h":378,"p":0},
      {"s":"P18","h":0,"p":0},{"s":"P18","h":306,"p":0},{"s":"P18","h":312,"p":1.6},{"s":"P18","h":318,"p":0},{"s":"P18","h":348,"p":0},{"s":"P18","h":354,"p":5.4},{"s":"P18","h":360,"p":0},{"s":"P18","h":378,"p":0},
      {"s":"P19","h":0,"p":0},{"s":"P19","h":300,"p":0},{"s":"P19","h":306,"p":2.6},{"s":"P19","h":312,"p":0},{"s":"P19","h":378,"p":0},
      {"s":"P20","h":0,"p":0},{"s":"P20","h":312,"p":0},{"s":"P20","h":318,"p":1.2},{"s":"P20","h":324,"p":0},{"s":"P20","h":378,"p":0}
    ],
    "ps": [
      {"s":"Kontroll-Lauf","h":0,"p":0},{"s":"Kontroll-Lauf","h":228,"p":0},{"s":"Kontroll-Lauf","h":234,"p":0.4},{"s":"Kontroll-Lauf","h":240,"p":0},{"s":"Kontroll-Lauf","h":300,"p":0},{"s":"Kontroll-Lauf","h":306,"p":1.8},{"s":"Kontroll-Lauf","h":312,"p":4.4},{"s":"Kontroll-Lauf","h":318,"p":5.1},{"s":"Kontroll-Lauf","h":324,"p":0},{"s":"Kontroll-Lauf","h":378,"p":0},
      {"s":"GFS-Hauptlauf","h":246,"p":0},{"s":"GFS-Hauptlauf","h":252,"p":0.2},{"s":"GFS-Hauptlauf","h":258,"p":0},{"s":"GFS-Hauptlauf","h":330,"p":0},{"s":"GFS-Hauptlauf","h":336,"p":0.4},{"s":"GFS-Hauptlauf","h":342,"p":0},{"s":"GFS-Hauptlauf","h":378,"p":0},
      {"s":"Ensemble-Mittel","h":0,"p":0.1},{"s":"Ensemble-Mittel","h":12,"p":0.2},{"s":"Ensemble-Mittel","h":24,"p":0.1},{"s":"Ensemble-Mittel","h":36,"p":0},{"s":"Ensemble-Mittel","h":240,"p":0},{"s":"Ensemble-Mittel","h":252,"p":0.1},{"s":"Ensemble-Mittel","h":264,"p":0.3},{"s":"Ensemble-Mittel","h":276,"p":0.2},{"s":"Ensemble-Mittel","h":288,"p":0.4},{"s":"Ensemble-Mittel","h":300,"p":0.5},{"s":"Ensemble-Mittel","h":312,"p":0.6},{"s":"Ensemble-Mittel","h":324,"p":0.4},{"s":"Ensemble-Mittel","h":336,"p":0.6},{"s":"Ensemble-Mittel","h":348,"p":0.7},{"s":"Ensemble-Mittel","h":360,"p":0.5},{"s":"Ensemble-Mittel","h":372,"p":0.3},{"s":"Ensemble-Mittel","h":378,"p":0.2}
    ]
  },
  "layer": [
    {
      "layer": [
        {
          "data": {"name": "pm"},
          "mark": {"type": "line", "strokeWidth": 1},
          "encoding": {
            "x": {
              "field": "h", "type": "quantitative",
              "scale": {"domain": [0, 378], "nice": false, "zero": false},
              "axis": {
                "orient": "top",
                "values": [12, 84, 132, 180, 228, 276, 324, 372],
                "grid": true, "gridColor": "#c4c4c4", "gridDash": [1, 4], "gridWidth": 1,
                "labels": false, "ticks": false, "domain": false,
                "title": "imgflip.com",
                "titleFont": "Liberation Sans", "titleFontSize": 11, "titleFontWeight": "bold",
                "titleColor": "#d8d8d8", "titleAnchor": null, "titleAlign": "left",
                "titleBaseline": "alphabetic", "titleX": -107, "titleY": 449, "titleAngle": 0
              }
            },
            "y": {
              "field": "p", "type": "quantitative",
              "scale": {"domain": [0, 50], "nice": false, "zero": true},
              "axis": {
                "orient": "right",
                "values": [0, 5, 10, 15, 20, 25, 30, 35, 40, 45],
                "grid": false,
                "domainColor": "#ffffff", "domainWidth": 2,
                "tickColor": "#ffffff", "tickSize": 3,
                "labelColor": "#d8d8d8", "labelFont": "DejaVu Sans Mono", "labelFontSize": 8,
                "labelPadding": 2, "labelFlush": false, "labelOverlap": false,
                "title": "Wetterzentrale",
                "titleFont": "DejaVu Sans Mono", "titleFontSize": 11, "titleFontWeight": "normal",
                "titleColor": "#e0e0e0", "titleAngle": 0, "titleAnchor": null, "titleAlign": "right",
                "titleBaseline": "alphabetic", "titleX": 8, "titleY": 447
              }
            },
            "color": {
              "field": "s", "type": "nominal",
              "scale": {
                "domain": ["P0","P1","P2","P3","P4","P5","P6","P7","P8","P9","P10","P11","P12","P13","P14","P15","P16","P17","P18","P19","P20"],
                "range": ["#2a2ab4","#2c4ad4","#2e68dc","#2e8ed6","#24acca","#22bcb2","#24bc8e","#24ac62","#26b444","#38bc24","#68c422","#b8c422","#d0b426","#d8a626","#d89026","#d07a1e","#c8681e","#d0581e","#c83c1e","#a82a1e","#942424"]
              },
              "legend": {
                "orient": "none", "legendX": -83, "legendY": 39,
                "title": null, "padding": 0,
                "symbolOpacity": 0, "symbolSize": 0, "symbolStrokeWidth": 0,
                "labelOffset": 0, "labelFont": "DejaVu Sans Mono", "labelFontSize": 9.5,
                "clipHeight": 10, "rowPadding": 4.62,
                "encode": {"labels": {"update": {"fill": {"scale": "color", "field": "value"}}}}
              }
            }
          }
        },
        {
          "data": {"name": "ps"},
          "mark": {"type": "line"},
          "encoding": {
            "x": {"field": "h", "type": "quantitative"},
            "y": {"field": "p", "type": "quantitative"},
            "stroke": {
              "field": "s", "type": "nominal",
              "scale": {
                "domain": ["30-Jahres-Mittel", "Kontroll-Lauf", "GFS-Hauptlauf", "Ensemble-Mittel"],
                "range": ["#f43c3c", "#2c2cf4", "#22d022", "#ffffff"]
              },
              "legend": {
                "orient": "top-right", "offset": 0, "title": null,
                "fillColor": "#000000", "strokeColor": "#9a9a9a", "padding": 6,
                "symbolType": "stroke", "symbolSize": 900, "symbolStrokeWidth": 3, "symbolOffset": 10,
                "labelOffset": 16, "labelFont": "DejaVu Sans Mono", "labelFontSize": 8,
                "labelColor": "#e0e0e0", "rowPadding": 4, "clipHeight": 8
              }
            },
            "strokeWidth": {
              "field": "s", "type": "nominal",
              "scale": {
                "domain": ["30-Jahres-Mittel", "Kontroll-Lauf", "GFS-Hauptlauf", "Ensemble-Mittel"],
                "range": [3, 2, 2.5, 2.5]
              },
              "legend": null
            }
          }
        }
      ]
    },
    {
      "layer": [
        {
          "data": {"name": "tm"},
          "mark": {"type": "line", "strokeWidth": 1},
          "encoding": {
            "x": {
              "field": "h", "type": "quantitative",
              "scale": {"domain": [0, 378], "nice": false, "zero": false},
              "axis": {
                "orient": "bottom",
                "values": [12, 84, 132, 180, 228, 276, 324, 372],
                "labelExpr": "datum.value == 12 ? ['29OCT', '2015'] : utcFormat(utc(2015, 9, 28, 12) + datum.value * 3600000, '%-d') + upper(utcFormat(utc(2015, 9, 28, 12) + datum.value * 3600000, '%b'))",
                "grid": false, "zindex": 1,
                "domainColor": "#ffffff", "domainWidth": 2,
                "tickColor": "#ffffff", "tickSize": 3,
                "labelColor": "#d8d8d8", "labelFont": "DejaVu Sans Mono", "labelFontSize": 7.5,
                "labelPadding": 2, "labelLineHeight": 9, "labelFlush": false, "labelOverlap": false, "labelBound": false,
                "title": "CHAOTIC",
                "titleFont": "Impact, DejaVu Sans Condensed, DejaVu Sans, sans-serif",
                "titleFontSize": 40, "titleFontWeight": "bold", "titleColor": "#ffffff",
                "titleAnchor": null, "titleAlign": "center", "titleBaseline": "alphabetic",
                "titleX": 211, "titleY": 22
              }
            },
            "y": {
              "field": "t", "type": "quantitative",
              "scale": {"domain": [-30, 30], "nice": false, "zero": false},
              "axis": {
                "orient": "left",
                "values": [-30, -25, -20, -15, -10, -5, 0, 5, 10, 15, 20, 25],
                "grid": true, "gridColor": "#c4c4c4", "gridDash": [1, 4], "gridWidth": 1,
                "domainColor": "#ffffff", "domainWidth": 2,
                "tickColor": "#ffffff", "tickSize": 3,
                "labelColor": "#d8d8d8", "labelFont": "DejaVu Sans Mono", "labelFontSize": 8,
                "labelPadding": 2, "labelFlush": false, "labelOverlap": false,
                "title": "Daten: Ensembles des GFS von NCEP",
                "titleFont": "DejaVu Sans Mono", "titleFontSize": 10, "titleFontWeight": "normal",
                "titleColor": "#e0e0e0", "titleAngle": 0, "titleAnchor": null, "titleAlign": "left",
                "titleBaseline": "alphabetic", "titleX": 1, "titleY": 447
              }
            },
            "color": {
              "field": "s", "type": "nominal",
              "scale": {
                "domain": ["P0","P1","P2","P3","P4","P5","P6","P7","P8","P9","P10","P11","P12","P13","P14","P15","P16","P17","P18","P19","P20"],
                "range": ["#2a2ab4","#2c4ad4","#2e68dc","#2e8ed6","#24acca","#22bcb2","#24bc8e","#24ac62","#26b444","#38bc24","#68c422","#b8c422","#d0b426","#d8a626","#d89026","#d07a1e","#c8681e","#d0581e","#c83c1e","#a82a1e","#942424"]
              },
              "legend": {
                "orient": "none", "legendX": -83, "legendY": 39,
                "title": null, "padding": 0,
                "symbolOpacity": 0, "symbolSize": 0, "symbolStrokeWidth": 0,
                "labelOffset": 0, "labelFont": "DejaVu Sans Mono", "labelFontSize": 9.5,
                "clipHeight": 10, "rowPadding": 4.62,
                "encode": {"labels": {"update": {"fill": {"scale": "color", "field": "value"}}}}
              }
            }
          }
        },
        {
          "data": {"name": "ts"},
          "mark": {"type": "line"},
          "encoding": {
            "x": {"field": "h", "type": "quantitative"},
            "y": {
              "field": "t", "type": "quantitative",
              "axis": {
                "orient": "left",
                "values": [-30, -25, -20, -15, -10, -5, 0, 5, 10, 15, 20, 25],
                "grid": true, "gridColor": "#c4c4c4", "gridDash": [1, 4], "gridWidth": 1,
                "domainColor": "#ffffff", "domainWidth": 2,
                "tickColor": "#ffffff", "tickSize": 3,
                "labelColor": "#d8d8d8", "labelFont": "DejaVu Sans Mono", "labelFontSize": 8,
                "labelPadding": 2, "labelFlush": false, "labelOverlap": false,
                "title": "Daten: Ensembles des GFS von NCEP",
                "titleFont": "DejaVu Sans Mono", "titleFontSize": 10, "titleFontWeight": "normal",
                "titleColor": "#e0e0e0", "titleAngle": 0, "titleAnchor": null, "titleAlign": "left",
                "titleBaseline": "alphabetic", "titleX": 1, "titleY": 447
              }
            },
            "stroke": {
              "field": "s", "type": "nominal",
              "scale": {
                "domain": ["30-Jahres-Mittel", "Kontroll-Lauf", "GFS-Hauptlauf", "Ensemble-Mittel"],
                "range": ["#f43c3c", "#2c2cf4", "#22d022", "#ffffff"]
              },
              "legend": {
                "orient": "top-right", "offset": 0, "title": null,
                "fillColor": "#000000", "strokeColor": "#9a9a9a", "padding": 6,
                "symbolType": "stroke", "symbolSize": 900, "symbolStrokeWidth": 3, "symbolOffset": 10,
                "labelOffset": 16, "labelFont": "DejaVu Sans Mono", "labelFontSize": 8,
                "labelColor": "#e0e0e0", "rowPadding": 4, "clipHeight": 8
              }
            },
            "strokeWidth": {
              "field": "s", "type": "nominal",
              "scale": {
                "domain": ["30-Jahres-Mittel", "Kontroll-Lauf", "GFS-Hauptlauf", "Ensemble-Mittel"],
                "range": [3, 2, 2.5, 2.5]
              },
              "legend": null
            }
          }
        }
      ]
    }
  ],
  "resolve": {"scale": {"y": "independent"}, "axis": {"x": "independent"}}
}
